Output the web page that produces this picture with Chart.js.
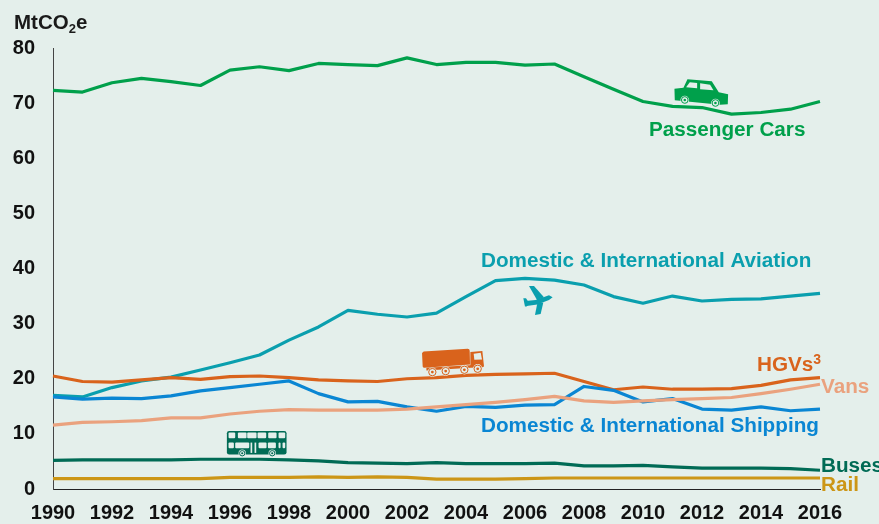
<!DOCTYPE html>
<html><head><meta charset="utf-8">
<script src="https://cdn.jsdelivr.net/npm/chart.js@4"></script>
<style>html,body{margin:0;padding:0;background:#e4efeb}#w{width:879px;height:524px;position:relative}</style>
</head><body><div id="w"><canvas id="c"></canvas></div>
<script>
const years=[1990,1991,1992,1993,1994,1995,1996,1997,1998,1999,2000,2001,2002,2003,2004,2005,2006,2007,2008,2009,2010,2011,2012,2013,2014,2015,2016];
const yTicks=[0,10,20,30,40,50,60,70,80];
const cars=[72.3,72.0,73.7,74.5,73.9,73.2,76.0,76.6,75.9,77.2,77.0,76.8,78.2,77.0,77.4,77.4,76.9,77.1,74.8,72.5,70.3,69.4,69.2,68.0,68.3,68.9,70.3];
const aviation=[17.0,16.7,18.4,19.6,20.3,21.6,22.9,24.3,27.0,29.4,32.4,31.7,31.2,31.9,34.9,37.8,38.2,37.9,37.0,34.9,33.7,35.0,34.1,34.4,34.5,35.0,35.5];
const hgvs=[20.5,19.5,19.4,19.8,20.2,19.9,20.4,20.5,20.2,19.8,19.6,19.5,20.0,20.2,20.6,20.8,20.9,21.0,19.5,18.0,18.5,18.1,18.1,18.2,18.8,19.8,20.2];
const vans=[11.6,12.1,12.2,12.4,12.9,12.9,13.6,14.1,14.4,14.3,14.3,14.3,14.5,14.9,15.3,15.7,16.2,16.8,16.0,15.7,16.0,16.2,16.4,16.6,17.3,18.1,19.0];
const shipping=[16.7,16.3,16.5,16.4,16.9,17.8,18.4,19.0,19.6,17.3,15.8,15.9,14.9,14.1,15.0,14.8,15.2,15.3,18.6,17.9,15.8,16.4,14.5,14.3,14.9,14.2,14.5];
const buses=[5.2,5.3,5.3,5.3,5.3,5.4,5.4,5.4,5.3,5.1,4.8,4.7,4.6,4.8,4.6,4.6,4.6,4.7,4.2,4.2,4.3,4.0,3.8,3.8,3.8,3.7,3.4];
const rail=[1.9,1.9,1.9,1.9,1.9,1.9,2.1,2.1,2.1,2.2,2.1,2.2,2.1,1.8,1.8,1.8,1.9,2.0,2.0,2.0,2.0,2.0,2.0,2.0,2.0,2.0,2.0];
const BG='#e4efeb', FONT='"Liberation Sans",Arial,sans-serif';
const C={cars:'#00a04b',av:'#0a9fae',hgv:'#d9631c',van:'#eaa27e',ship:'#0a86d3',bus:'#006b55',rail:'#cc9616'};
const mk=(label,data,color)=>({label,data,borderColor:color,borderWidth:3.2,pointRadius:0,tension:0,fill:false,borderCapStyle:'butt',borderJoinStyle:'round'});

function poly(ctx,pts){ctx.beginPath();pts.forEach((p,i)=>i?ctx.lineTo(p[0],p[1]):ctx.moveTo(p[0],p[1]));ctx.closePath();ctx.fill();}
function wheel(ctx,x,y,r,col){ctx.fillStyle=BG;ctx.beginPath();ctx.arc(x,y,r,0,7);ctx.fill();
 ctx.strokeStyle=col;ctx.lineWidth=3;ctx.beginPath();ctx.arc(x,y,r-3,0,7);ctx.stroke();
 ctx.fillStyle=col;ctx.beginPath();ctx.arc(x,y,r*0.3,0,7);ctx.fill();}
function drawCar(ctx){const c=C.cars;ctx.fillStyle=c;
 poly(ctx,[[103,85],[130,82],[142,57],[215,63],[236,96],[264,102],[263,132],[240,133],[104,120]]);
 ctx.fillStyle=BG;
 poly(ctx,[[138,81],[149,66],[171,68],[171,84]]);
 poly(ctx,[[180,69],[210,73],[220,90],[180,87]]);
 wheel(ctx,134,119,13,c);wheel(ctx,226,128,13,c);}
function drawTruck(ctx){const c=C.hgv;ctx.fillStyle=c;
 ctx.beginPath();ctx.moveTo(372,33);ctx.lineTo(504,25);ctx.quadraticCurveTo(510,25,510,31);ctx.lineTo(511,72);ctx.lineTo(374,82);ctx.quadraticCurveTo(370,82,369,78);ctx.lineTo(367,38);ctx.closePath();ctx.fill();
 poly(ctx,[[512,35],[548,32],[553,78],[545,82],[512,80]]);
 poly(ctx,[[380,82],[550,72],[550,80],[380,90]]);
 ctx.fillStyle=BG;poly(ctx,[[522,40],[543,37],[547,57],[524,58]]);
 [[398,95],[438,92],[494,88],[534,85]].forEach(w=>wheel(ctx,w[0],w[1],14,c));}
function drawBus(ctx){const c=C.bus;ctx.fillStyle=c;
 ctx.beginPath();ctx.roundRect(683,273,179,71,7);ctx.fill();
 ctx.fillStyle=BG;
 [[688,20],[716,26],[744,28],[775,26],[807,25],[838,20]].forEach(w=>{ctx.beginPath();ctx.roundRect(w[0],278,w[1],17,3);ctx.fill();});
 [[688,16],[708,42],[778,24],[806,24],[838,6],[850,8]].forEach(w=>{ctx.beginPath();ctx.roundRect(w[0],308,w[1],17,3);ctx.fill();});
 ctx.fillRect(754,308,5,31);ctx.fillRect(766,308,5,31);
 wheel(ctx,729,340,11,c);wheel(ctx,819,340,11,c);}
function drawPlane(ctx){ctx.fillStyle=C.av;
 poly(ctx,[[135,93],[165,90],[205,76],[216,82],[205,90],[170,104],[138,108]]);
 poly(ctx,[[145,48],[160,48],[190,82],[170,92]]);
 poly(ctx,[[163,135],[180,132],[188,98],[170,100]]);
 poly(ctx,[[128,85],[136,85],[146,100],[138,110],[133,110]]);}

/* icons are anchored in data units; local shape coordinates are the 3x sketch units */
const icons=[
 {draw:drawCar,year:2011.97,val:71.9,cx:183,cy:97},
 {draw:drawTruck,year:2003.56,val:23.2,cx:460,cy:62},
 {draw:drawBus,year:1996.9,val:8.3,cx:772,cy:310},
 {draw:drawPlane,year:2006.44,val:34.3,cx:172,cy:90}];
const labels=[
 {t:'Passenger Cars',x:649,y:136,c:C.cars},
 {t:'Domestic & International Aviation',x:481,y:267,c:C.av},
 {t:'HGVs',sup:'3',x:757,y:371,c:C.hgv},
 {t:'Vans',x:821,y:393,c:C.van},
 {t:'Domestic & International Shipping',x:481,y:432,c:C.ship},
 {t:'Buses',x:821,y:472,c:C.bus},
 {t:'Rail',x:821,y:491,c:C.rail}];

const overlay={id:'overlay',afterDatasetsDraw(chart){
 const ctx=chart.ctx,sx=chart.scales.x,sy=chart.scales.y;
 const xOf=v=>sx.getPixelForValue(0)+(v-years[0])*(sx.getPixelForValue(years.length-1)-sx.getPixelForValue(0))/(years.length-1);
 icons.forEach(i=>{ctx.save();ctx.translate(xOf(i.year),sy.getPixelForValue(i.val));ctx.scale(1/3,1/3);ctx.translate(-i.cx,-i.cy);i.draw(ctx);ctx.restore();});
 ctx.save();ctx.textAlign='left';ctx.textBaseline='alphabetic';
 labels.forEach(l=>{ctx.fillStyle=l.c;ctx.font='bold 20.7px '+FONT;ctx.fillText(l.t,l.x,l.y);
  if(l.sup){const w=ctx.measureText(l.t).width;ctx.font='bold 14px '+FONT;ctx.fillText(l.sup,l.x+w,l.y-7);}});
 ctx.fillStyle='#1a1a1a';ctx.font='bold 20.5px '+FONT;ctx.fillText('MtCO',14,29);
 let w=ctx.measureText('MtCO').width;ctx.font='bold 13px '+FONT;ctx.fillText('2',14+w,33);
 let w2=ctx.measureText('2').width;ctx.font='bold 20.5px '+FONT;ctx.fillText('e',14+w+w2,29);
 ctx.restore();
}};

new Chart(document.getElementById('c'),{type:'line',
 data:{labels:years,datasets:[mk('Rail',rail,C.rail),mk('Buses',buses,C.bus),mk('Vans',vans,C.van),mk('Domestic & International Shipping',shipping,C.ship),mk('HGVs',hgvs,C.hgv),mk('Domestic & International Aviation',aviation,C.av),mk('Passenger Cars',cars,C.cars)]},
 options:{responsive:true,maintainAspectRatio:false,animation:false,
  layout:{padding:{top:48,right:59,left:0,bottom:0}},
  plugins:{legend:{display:false},tooltip:{enabled:false}},
  scales:{
   x:{type:'category',offset:false,afterFit(s){s.height=35;},
    grid:{display:false},border:{display:true,color:'#222',width:1},
    ticks:{autoSkip:false,maxRotation:0,minRotation:0,padding:4,color:'#111',font:{family:FONT,weight:'bold',size:20},
     callback(v,i){return i%2===0?years[i]:'';}}},
   y:{min:0,max:80,afterFit(s){s.width=53;},afterBuildTicks(s){s.ticks=yTicks.map(v=>({value:v}));},
    grid:{display:false},border:{display:true,color:'#444',width:1},
    ticks:{padding:10,color:'#111',font:{family:FONT,weight:'bold',size:20}}}
  }},
 plugins:[overlay,{id:'bg',beforeDraw(ch){ch.ctx.save();ch.ctx.fillStyle=BG;ch.ctx.fillRect(0,0,ch.width,ch.height);ch.ctx.restore();}}]
});
</script></body></html>
